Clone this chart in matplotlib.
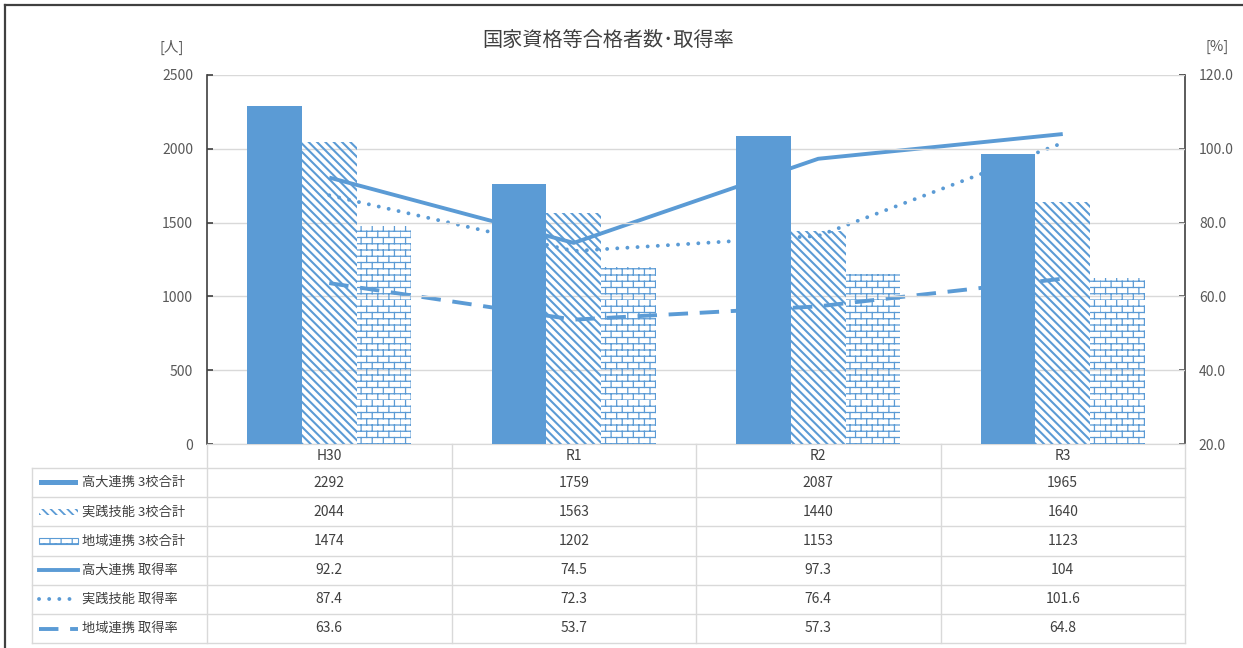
import numpy as np
import matplotlib
matplotlib.use("Agg")
import matplotlib.pyplot as plt
import matplotlib.transforms as mtransforms
from matplotlib import hatch as mhatch
from matplotlib.path import Path
from matplotlib.lines import Line2D
from matplotlib.patches import Rectangle

plt.rcParams['font.family'] = ['Noto Sans CJK JP', 'DejaVu Sans']

# data
categories = ['H30', 'R1', 'R2', 'R3']
koudai_count = [2292, 1759, 2087, 1965]
jissen_count = [2044, 1563, 1440, 1640]
chiiki_count = [1474, 1202, 1153, 1123]
koudai_rate = [92.2, 74.5, 97.3, 104]
jissen_rate = [87.4, 72.3, 76.4, 101.6]
chiiki_rate = [63.6, 53.7, 57.3, 64.8]
series_names = ['高大連携 3校合計', '実践技能 3校合計', '地域連携 3校合計',
                '高大連携 取得率', '実践技能 取得率', '地域連携 取得率']
rate_labels = ['92.2', '74.5', '97.3', '104']

BLUE = '#5B9BD5'
GRID = '#d9d9d9'
TXT = '#404040'
DIAG = '\\' * 4


# brick hatch (Excel pattern), hijacks the '*' hatch character
class BrickHatch(mhatch.HatchPatternBase):
    def __init__(self, hatch, density):
        n = hatch.count('*')
        self.rows = 16 if n else 0
        self.cols = 9
        self.num_vertices = self.rows * 2 + self.rows * self.cols * 2

    def set_vertices_and_codes(self, vertices, codes):
        k = 0
        for i in range(self.rows):
            y0 = i / self.rows
            y1 = (i + 1) / self.rows
            vertices[k] = (0.0, y0)
            vertices[k + 1] = (1.0, y0)
            codes[k] = Path.MOVETO
            codes[k + 1] = Path.LINETO
            k += 2
            off = 0.5 if i % 2 else 0.0
            for j in range(self.cols):
                xv = (j + off) / self.cols
                vertices[k] = (xv, y0)
                vertices[k + 1] = (xv, y1)
                codes[k] = Path.MOVETO
                codes[k + 1] = Path.LINETO
                k += 2


mhatch._hatch_types = [t for t in mhatch._hatch_types if t is not mhatch.Stars] + [BrickHatch]

fig = plt.figure(figsize=(12.43, 6.48), dpi=100)
W, H = 1243, 648


def fy(px):
    return 1 - px / H


ax = fig.add_axes([207 / W, fy(444), (1185 - 207) / W, (444 - 75) / H])
ax2 = ax.twinx()

x = np.arange(len(categories))
bw = 0.224

# rate lines (drawn behind bars)
ax2.plot(x, koudai_rate, color=BLUE, lw=2.8, solid_capstyle='butt')
ax2.plot(x, jissen_rate, color=BLUE, lw=2.8, linestyle=(0, (0.01, 2.6)), dash_capstyle='round')
ax2.plot(x, chiiki_rate, color=BLUE, lw=2.8, linestyle=(0, (5, 3)))
ax2.set_ylim(20, 120)
ax2.set_yticks(np.arange(20, 121, 20))
ax2.set_yticklabels([f'{v:.1f}' for v in np.arange(20, 121, 20)])

ax.set_zorder(ax2.get_zorder() + 1)
ax.patch.set_visible(False)

ax.bar(x - bw, koudai_count, bw, color=BLUE, linewidth=0, zorder=3)
with plt.rc_context({'hatch.linewidth': 1.5}):
    ax.bar(x, jissen_count, bw, facecolor='none', edgecolor=BLUE, linewidth=0,
           hatch=DIAG, zorder=3)
with plt.rc_context({'hatch.linewidth': 0.9}):
    ax.bar(x + bw, chiiki_count, bw, facecolor='none', edgecolor=BLUE, linewidth=0,
           hatch='*', zorder=3)
plt.rcParams['hatch.linewidth'] = 1.0

ax.set_xlim(-0.5, len(categories) - 0.5)
ax.set_ylim(0, 2500)
ax.set_yticks(np.arange(0, 2501, 500))
ax.set_xticks([])
ax.grid(axis='y', color=GRID, lw=1, zorder=0)
ax.set_axisbelow(True)

for a in (ax, ax2):
    a.spines['top'].set_visible(False)
    a.spines['bottom'].set_color(GRID)
    a.spines['left'].set_color('#404040')
    a.spines['right'].set_color('#404040')
    a.spines['left'].set_linewidth(1.2)
    a.spines['right'].set_linewidth(1.2)
    a.tick_params(axis='y', direction='in', length=4, width=1.2, color='#404040',
                  labelsize=10, labelcolor='#595959', pad=10)
ax2.spines['left'].set_visible(False)
ax.spines['right'].set_visible(False)

# title and units
fig.text(608 / W, fy(40), '国家資格等合格者数･取得率', ha='center', va='center',
         fontsize=14.5, color=TXT)
fig.text(172 / W, fy(47), '[人]', ha='center', va='center', fontsize=10.5, color='#595959')
fig.text(1217 / W, fy(47), '[%]', ha='center', va='center', fontsize=10.5, color='#595959')

# data table
blend = mtransforms.blended_transform_factory(ax.transData, fig.transFigure)
row_edges = [444, 468, 497.2, 526.4, 555.6, 584.8, 614, 643]
left_px = 32 / W

# horizontal lines
for r in row_edges[1:]:
    fig.add_artist(Line2D([left_px, 1185 / W], [fy(r), fy(r)], transform=fig.transFigure,
                          color=GRID, lw=1))
# vertical lines
for c in np.arange(-0.5, len(categories), 1.0):
    fig.add_artist(Line2D([c, c], [fy(444), fy(643)], transform=blend, color=GRID, lw=1))
fig.add_artist(Line2D([left_px, left_px], [fy(468), fy(643)], transform=fig.transFigure,
                      color=GRID, lw=1))

# category header
for i, cat in enumerate(categories):
    fig.text(i, fy((444 + 468) / 2), cat, transform=blend, ha='center', va='center',
             fontsize=10, color=TXT)

rows = [koudai_count, jissen_count, chiiki_count, rate_labels, jissen_rate, chiiki_rate]
for r, vals in enumerate(rows):
    yc = fy((row_edges[r + 1] + row_edges[r + 2]) / 2)
    for i, v in enumerate(vals):
        fig.text(i, yc, str(v), transform=blend, ha='center', va='center',
                 fontsize=10, color=TXT)
    fig.text(82 / W, yc, series_names[r], ha='left', va='center', fontsize=9.5, color=TXT)

# legend keys
kx0, kx1 = 39 / W, 78 / W
yc = [fy((row_edges[k + 1] + row_edges[k + 2]) / 2) for k in range(6)]
fig.add_artist(Rectangle((kx0, yc[0] - 2.5 / H), kx1 - kx0, 5 / H, transform=fig.transFigure,
                         facecolor=BLUE, linewidth=0))
with plt.rc_context({'hatch.linewidth': 1.3}):
    fig.add_artist(Rectangle((kx0, yc[1] - 3 / H), kx1 - kx0, 6 / H, transform=fig.transFigure,
                             facecolor='none', edgecolor=BLUE, linewidth=0, hatch=DIAG))
with plt.rc_context({'hatch.linewidth': 0.9}):
    fig.add_artist(Rectangle((kx0, yc[2] - 3 / H), kx1 - kx0, 6 / H, transform=fig.transFigure,
                             facecolor='none', edgecolor=BLUE, linewidth=0.8, hatch='*'))
fig.add_artist(Line2D([kx0, kx1], [yc[3], yc[3]], transform=fig.transFigure, color=BLUE, lw=2.8))
fig.add_artist(Line2D([kx0, kx1], [yc[4], yc[4]], transform=fig.transFigure, color=BLUE, lw=2.8,
                      linestyle=(0, (0.01, 2.6)), dash_capstyle='round'))
fig.add_artist(Line2D([kx0, kx1], [yc[5], yc[5]], transform=fig.transFigure, color=BLUE, lw=2.8,
                      linestyle=(0, (5, 3))))

# outer frame (left and top edges)
fig.add_artist(Line2D([5 / W, 5 / W], [0, fy(5)], transform=fig.transFigure, color='#404040', lw=1.6))
fig.add_artist(Line2D([5 / W, 1], [fy(5), fy(5)], transform=fig.transFigure, color='#404040', lw=1.6))

fig.savefig('out.png', dpi=100)
